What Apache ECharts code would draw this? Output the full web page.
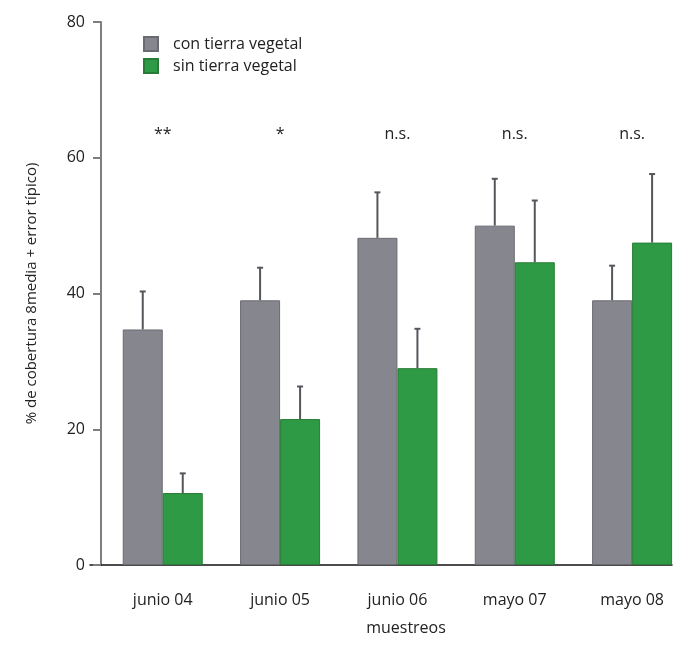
<!DOCTYPE html>
<html>
<head>
<meta charset="utf-8">
<script src="https://cdn.jsdelivr.net/npm/echarts@6/dist/echarts.min.js"></script>
<style>html,body{margin:0;padding:0;background:#fff}#c{width:678px;height:663px}</style>
</head>
<body>
<div id="c"></div>
<script>
var categories = ['junio 04', 'junio 05', 'junio 06', 'mayo 07', 'mayo 08'];
var conTierra = [34.7, 39.0, 48.2, 50.0, 39.0];
var conTierraErr = [5.6, 4.8, 6.7, 6.9, 5.1];
var sinTierra = [10.6, 21.5, 29.0, 44.6, 47.5];
var sinTierraErr = [2.9, 4.8, 5.8, 9.1, 10.1];
var significance = ['**', '*', 'n.s.', 'n.s.', 'n.s.'];
var yTicks = [0, 20, 40, 60, 80];
var seriesNames = ['con tierra vegetal', 'sin tierra vegetal'];

var FONT = 'Open Sans';
var chart = echarts.init(document.getElementById('c'));

function pairs(arr) { return arr.map(function (v, i) { return [i, v]; }); }
function errData(vals, errs) { return vals.map(function (v, i) { return [i, v, v + errs[i]]; }); }
function errRender(offset) {
  return function (params, api) {
    var x = api.value(0);
    var p0 = api.coord([x, api.value(1)]);
    var p1 = api.coord([x, api.value(2)]);
    var cx = p0[0] + offset;
    return {
      type: 'group',
      children: [
        { type: 'line', shape: { x1: cx, y1: p0[1], x2: cx, y2: p1[1] }, style: { stroke: '#55565c', lineWidth: 2 } },
        { type: 'line', shape: { x1: cx - 3, y1: p1[1], x2: cx + 3, y2: p1[1] }, style: { stroke: '#55565c', lineWidth: 2 } }
      ]
    };
  };
}

chart.setOption({
  animation: false,
  backgroundColor: '#fff',
  title: {
    text: 'muestreos',
    left: 401, top: 615,
    textAlign: 'center',
    textStyle: { fontFamily: FONT, fontSize: 16, fontWeight: 'normal', color: '#222' }
  },
  legend: {
    orient: 'vertical',
    left: 138, top: 31,
    itemWidth: 14, itemHeight: 14, itemGap: 6,
    icon: 'rect',
    data: seriesNames,
    textStyle: { fontFamily: FONT, fontSize: 16, color: '#222', padding: [0, 0, 0, 10] }
  },
  grid: { left: 90, right: 6, top: 22, bottom: 98, containLabel: false },
  xAxis: {
    type: 'value',
    min: -0.62, max: 4.34,
    axisLine: { show: true, onZero: false, lineStyle: { color: '#111', width: 1.5 } },
    axisTick: { show: false },
    splitLine: { show: false },
    axisLabel: {
      customValues: [0, 1, 2, 3, 4],
      formatter: function (v) { return categories[Math.round(v)] || ''; },
      margin: 27,
      fontFamily: FONT, fontSize: 16, color: '#222'
    }
  },
  yAxis: {
    type: 'value',
    min: 0, max: 80, interval: 20,
    offset: -11,
    axisLine: { show: true, onZero: false, lineStyle: { color: '#7d7e82', width: 2 } },
    axisTick: { show: true, length: 8, lineStyle: { color: '#7d7e82', width: 2 } },
    splitLine: { show: false },
    axisLabel: {
      margin: 16,
      formatter: function (v) { return yTicks.indexOf(v) >= 0 ? String(v) : ''; },
      fontFamily: FONT, fontSize: 16, color: '#222'
    },
    name: '% de cobertura 8media + error típico)',
    nameLocation: 'middle',
    nameGap: 62,
    nameRotate: 90,
    nameTextStyle: { fontFamily: FONT, fontSize: 15, color: '#222' }
  },
  series: [
    {
      name: seriesNames[0], type: 'bar', data: pairs(conTierra),
      barWidth: 40, barGap: '0%',
      itemStyle: { color: '#86878e', borderColor: '#6a6b70', borderWidth: 1 }
    },
    {
      name: seriesNames[1], type: 'bar', data: pairs(sinTierra),
      barWidth: 40, barGap: '0%',
      itemStyle: { color: '#2f9a45', borderColor: '#287c37', borderWidth: 1 }
    },
    {
      type: 'custom', data: errData(conTierra, conTierraErr),
      renderItem: errRender(-20), z: 5, silent: true
    },
    {
      type: 'custom', data: errData(sinTierra, sinTierraErr),
      renderItem: errRender(20), z: 5, silent: true
    },
    {
      type: 'custom', data: significance.map(function (s, i) { return [i, 63.5, s]; }),
      renderItem: function (params, api) {
        var p = api.coord([api.value(0), api.value(1)]);
        return {
          type: 'text', x: p[0], y: p[1],
          style: { text: significance[params.dataIndex], fontFamily: FONT, fontSize: 16, fill: '#222', align: 'center', verticalAlign: 'middle' }
        };
      },
      silent: true
    }
  ]
});
</script>
</body>
</html>
